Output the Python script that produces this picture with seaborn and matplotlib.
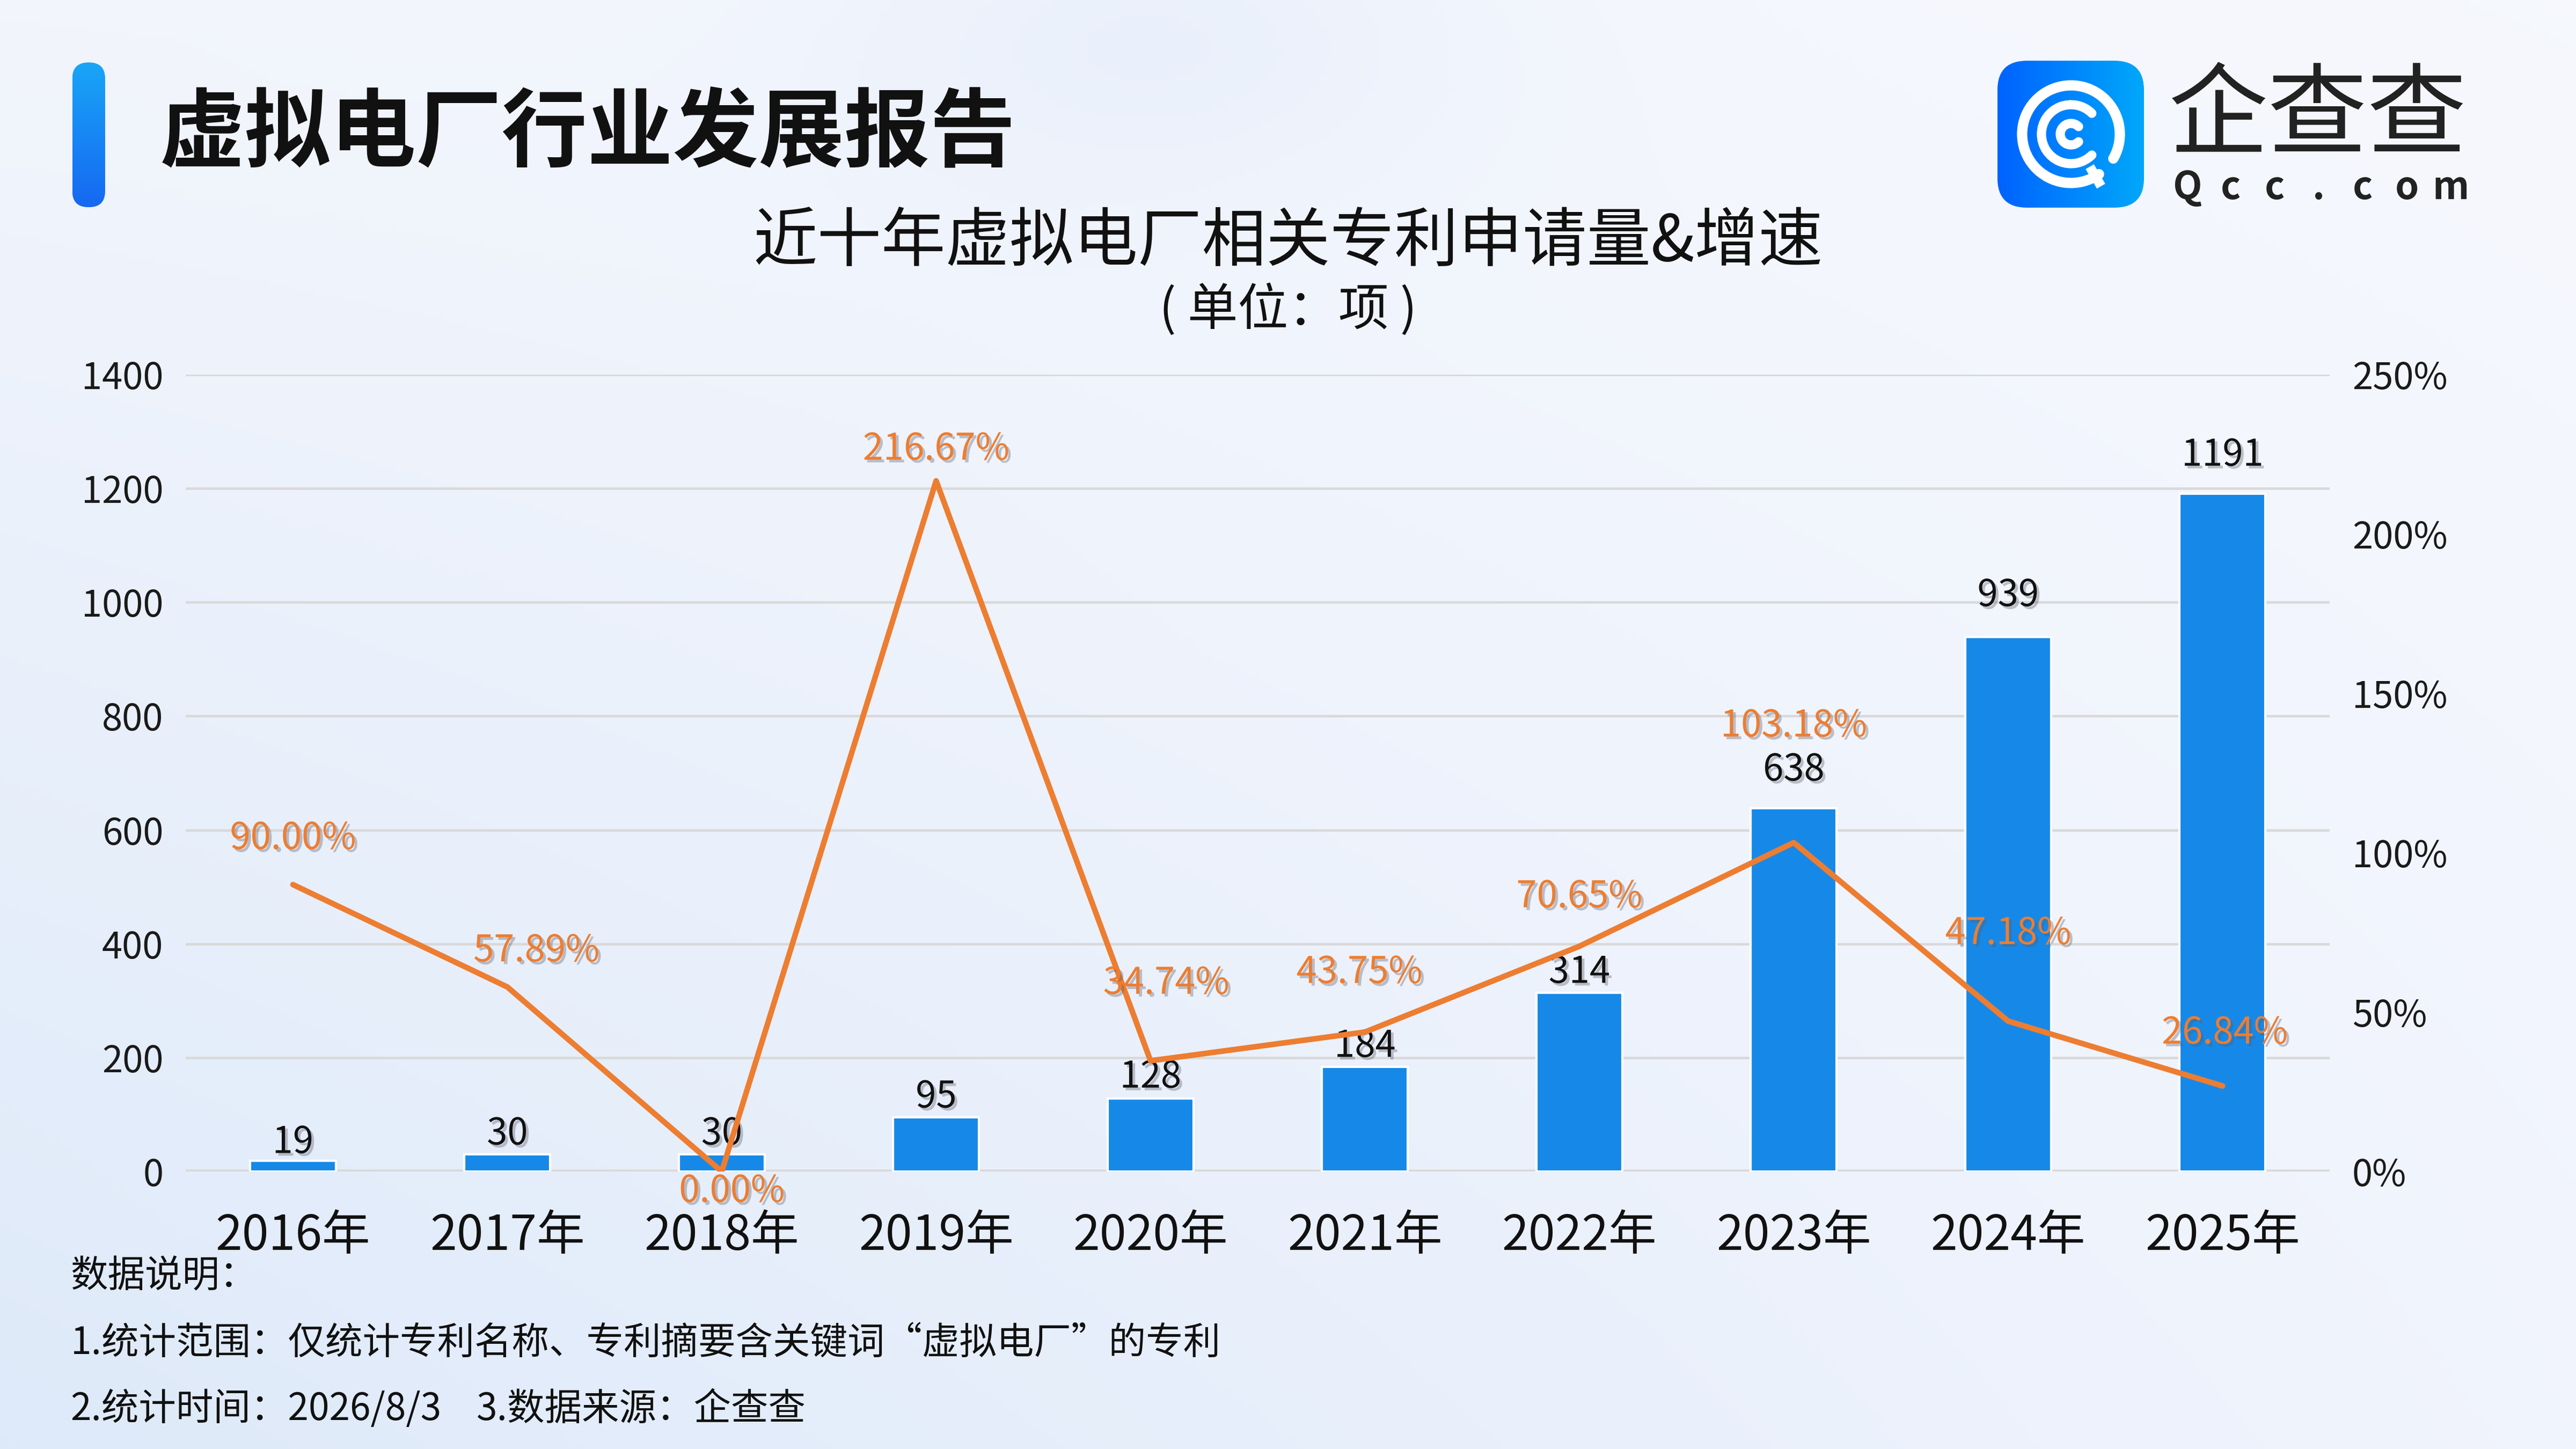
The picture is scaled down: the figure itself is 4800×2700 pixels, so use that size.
import numpy as np
import pandas as pd
import matplotlib
matplotlib.use("Agg")
import matplotlib.pyplot as plt
import matplotlib.patheffects as pe
from matplotlib.patches import FancyBboxPatch, Arc
import seaborn as sns

# ---------------- data ----------------
years = ["2016年", "2017年", "2018年", "2019年", "2020年",
         "2021年", "2022年", "2023年", "2024年", "2025年"]
counts = [19, 30, 30, 95, 128, 184, 314, 638, 939, 1191]
growth = [90.00, 57.89, 0.00, 216.67, 34.74, 43.75, 70.65, 103.18, 47.18, 26.84]
left_ticks = [0, 200, 400, 600, 800, 1000, 1200, 1400]
right_ticks = [0, 50, 100, 150, 200, 250]
right_tick_labels = ["0%", "50%", "100%", "150%", "200%", "250%"]

report_title = "虚拟电厂行业发展报告"
chart_title = "近十年虚拟电厂相关专利申请量&增速"
unit_text = "( 单位：项 )"
note_head = "数据说明："
note_1 = "1.统计范围：仅统计专利名称、专利摘要含关键词“虚拟电厂”的专利"
note_2a = "2.统计时间：2026/8/3"
note_2b = "3.数据来源：企查查"
logo_cn = "企查查"
logo_en = "Qcc.com"

# label placement (layout only, in points)
count_dy = [8, 9, 9, 9, 9.5, 9, 9, 17, 18.4, 17]
growth_dx = [0, 13, 4.5, 0, 7, -2.5, 0, 0, 0, 1]
growth_dy = [20.5, 16, -9, 14, 34.5, 26.5, 22, 52, 39, 23.5]

# ---------------- style ----------------
sns.set_theme(style="white")
plt.rcParams["font.family"] = ["Noto Sans CJK SC", "DejaVu Sans"]
plt.rcParams["axes.unicode_minus"] = False

BAR = "#1689E8"
ORANGE = "#ED7D31"
GRID = "#D9D9D9"
shadow = [pe.withSimplePatchShadow(offset=(1.2, -1.2),
                                   shadow_rgbFace=(0.35, 0.35, 0.4), alpha=0.35)]

fig = plt.figure(figsize=(16, 9), dpi=300)

# ---------------- background gradient ----------------
bg = fig.add_axes([0, 0, 1, 1], zorder=-10)
h, w = 270, 480
yy, xx = np.mgrid[0:1:h * 1j, 0:1:w * 1j]   # yy: 0 top -> 1 bottom
c_tl = np.array([0.950, 0.962, 0.988])
c_tr = np.array([0.965, 0.973, 0.995])
c_bl = np.array([0.870, 0.916, 0.978])
c_br = np.array([0.945, 0.958, 0.992])
img = (c_tl * ((1 - xx) * (1 - yy))[..., None] + c_tr * (xx * (1 - yy))[..., None]
       + c_bl * ((1 - xx) * yy)[..., None] + c_br * (xx * yy)[..., None])
blob = np.exp(-(((xx - 0.45) / 0.13) ** 2 + ((yy - 0.02) / 0.12) ** 2))
img = img - blob[..., None] * np.array([0.035, 0.022, 0.005])
bg.imshow(np.clip(img, 0, 1), extent=[0, 1, 0, 1], aspect="auto", origin="upper")
bg.set_axis_off()

# ---------------- main chart ----------------
df = pd.DataFrame({"year": years, "count": counts, "growth": growth})

ax = fig.add_axes([0.0721, 0.1915, 0.8323, 0.55])
ax.set_facecolor("none")
sns.barplot(data=df, x="year", y="count", color=BAR, saturation=1,
            width=0.4, ax=ax, zorder=3)
ax.set_xlim(-0.5, 9.5)
ax.set_ylim(0, 1400)
ax.set_yticks(left_ticks)
ax.yaxis.grid(True, color=GRID, lw=1.1)
ax.xaxis.grid(False)
ax.set_axisbelow(True)
for s in ax.spines.values():
    s.set_visible(False)
ax.axhline(0, color=GRID, lw=1.8, zorder=2)
ax.tick_params(axis="y", length=0, pad=10, labelsize=16.5, labelcolor="#1a1a1a")
ax.tick_params(axis="x", length=0, pad=18, labelsize=21.5, labelcolor="#111111")
ax.set_xlabel("")
ax.set_ylabel("")

for i, v in enumerate(counts):
    ax.annotate(str(v), (i, v), xytext=(0, count_dy[i]), textcoords="offset points",
                ha="center", va="center", fontsize=16.5, color="#111111",
                path_effects=shadow, zorder=6)

ax2 = ax.twinx()
ax2.set_facecolor("none")
sns.lineplot(data=df, x="year", y="growth", color=ORANGE, lw=2.5,
             sort=False, ax=ax2, zorder=4)
ax2.set_ylim(0, 250)
ax2.set_yticks(right_ticks)
ax2.set_yticklabels(right_tick_labels)
for s in ax2.spines.values():
    s.set_visible(False)
ax2.tick_params(axis="y", length=0, pad=10, labelsize=16.5, labelcolor="#1a1a1a")
ax2.grid(False)
ax2.set_ylabel("")
ax2.set_xlabel("")

for i, g in enumerate(growth):
    ax2.annotate(f"{g:.2f}%", (i, g), xytext=(growth_dx[i], growth_dy[i]),
                 textcoords="offset points", ha="center", va="center",
                 fontsize=16.5, color=ORANGE, path_effects=shadow, zorder=7)

# ---------------- titles ----------------
fig.text(0.0619, 0.907, report_title, fontsize=38.3, fontweight="bold",
         color="#111111", ha="left", va="center")
fig.text(0.5, 0.8325, chart_title, fontsize=28.7, color="#111111",
         ha="center", va="center")
fig.text(0.5, 0.786, unit_text, fontsize=22.5, color="#111111",
         ha="center", va="center")

# accent bar left of title
acc = fig.add_axes([0.02806, 0.857, 0.01276, 0.0999])
acc.set_xlim(0, 61)
acc.set_ylim(0, 270)
grad = np.linspace(0, 1, 256)[:, None]
cmap_acc = matplotlib.colors.LinearSegmentedColormap.from_list(
    "acc", ["#1668F2", "#19A6F7"])
im = acc.imshow(grad, extent=[0, 61, 0, 270], aspect="auto", cmap=cmap_acc,
                origin="lower")
clip = FancyBboxPatch((0, 0), 61, 270, boxstyle="round,pad=0,rounding_size=30",
                      transform=acc.transData, facecolor="none", edgecolor="none")
acc.add_patch(clip)
im.set_clip_path(clip)
acc.set_axis_off()

# ---------------- logo ----------------
lg = fig.add_axes([0.7754, 0.8567, 0.0569, 0.1014])
lg.set_xlim(0, 273)
lg.set_ylim(0, 274)
cmap_logo = matplotlib.colors.LinearSegmentedColormap.from_list(
    "logo", ["#0062FF", "#00A8FA"])
gimg = lg.imshow(np.linspace(0, 1, 256)[None, :], extent=[0, 273, 0, 274],
                 aspect="auto", cmap=cmap_logo)
lclip = FancyBboxPatch((0, 0), 273, 274, boxstyle="round,pad=0,rounding_size=55",
                       transform=lg.transData, facecolor="none", edgecolor="none")
lg.add_patch(lclip)
gimg.set_clip_path(lclip)
cx, cy = 137, 137
lg.add_patch(Arc((cx, cy), 182, 182, theta1=-30, theta2=305, color="white",
                 lw=4.6, capstyle="round"))
lg.add_patch(Arc((cx, cy), 110, 110, theta1=45, theta2=315, color="white",
                 lw=4.1, capstyle="round"))
lg.add_patch(Arc((cx, cy), 40, 40, theta1=45, theta2=315, color="white",
                 lw=4.1, capstyle="round"))
ang = np.deg2rad(-60)
lg.plot([cx + 70 * np.cos(ang), cx + 112 * np.cos(ang)],
        [cy + 70 * np.sin(ang), cy + 112 * np.sin(ang)],
        color="white", lw=4.3, solid_capstyle="butt")
lg.set_axis_off()

fig.text(0.8419, 0.9185, logo_cn, fontsize=44.5, color="#222222",
         ha="left", va="center")
for k, ch in enumerate(logo_en):
    fig.text((4075 + 82 * k) / 4800, 0.8705, ch, fontsize=17, color="#222222",
             ha="center", va="center", fontweight="bold")

# ---------------- notes ----------------
fig.text(0.0274, 0.119, note_head, fontsize=16.7, color="#111111",
         ha="left", va="center")
fig.text(0.0274, 0.0726, note_1, fontsize=16.7, color="#111111",
         ha="left", va="center")
fig.text(0.0274, 0.0272, note_2a, fontsize=16.7, color="#111111",
         ha="left", va="center")
fig.text(0.185, 0.0272, note_2b, fontsize=16.7, color="#111111",
         ha="left", va="center")

fig.savefig("out.png", dpi=300)
